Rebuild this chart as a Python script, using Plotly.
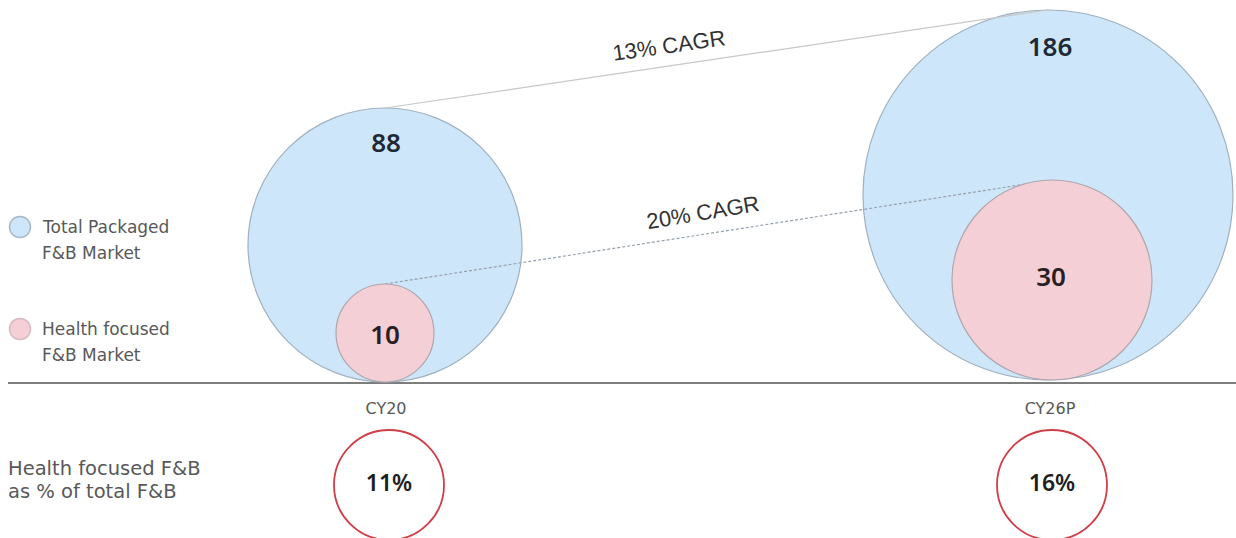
import plotly.graph_objects as go

# ---- data ----
years = ["CY20", "CY26P"]
total_market = [88, 186]
health_market = [10, 30]
health_share = ["11%", "16%"]
cagr_labels = ["13% CAGR", "20% CAGR"]
legend_lines = [["Total Packaged", "F&B Market"], ["Health focused", "F&B Market"]]
caption_lines = ["Health focused F&B", "as % of total F&B"]

# ---- layout constants (pixel-like coordinates, y downward) ----
W, H = 1236, 538
big_x = [385, 1048]
big_y = [245, 195]
big_r = [137, 185]
pink_x = [385, 1052]
pink_y = [333, 280]
pink_r = [49, 100]
base_y = 383
year_label_y = 410
share_x = [389, 1052]
share_y = 485
share_r = 55

BLUE_FILL = "rgb(206,230,249)"
BLUE_LINE = "rgb(160,176,192)"
PINK_FILL = "rgb(244,207,214)"
PINK_LINE = "rgb(175,165,172)"
RED = "rgb(208,62,72)"
GREY_TXT = "rgb(88,88,88)"
VAL_FONT = "Noto Sans"
TXT_FONT = "DejaVu Sans"
CAGR_FONT = "Liberation Sans"

fig = go.Figure()

# baseline
fig.add_trace(go.Scatter(x=[8, W], y=[base_y, base_y], mode="lines",
                         line=dict(color="rgb(125,125,125)", width=2),
                         hoverinfo="skip", showlegend=False))

# big (total market) circles
fig.add_trace(go.Scatter(
    x=big_x, y=big_y, mode="markers",
    marker=dict(size=[2 * r for r in big_r], color=BLUE_FILL, opacity=1,
                line=dict(color=BLUE_LINE, width=1.2)),
    hoverinfo="skip", showlegend=False))

# connector lines (top of circles)
fig.add_trace(go.Scatter(
    x=big_x, y=[big_y[i] - big_r[i] for i in range(2)], mode="lines",
    line=dict(color="rgb(200,200,200)", width=1.2),
    hoverinfo="skip", showlegend=False))
fig.add_trace(go.Scatter(
    x=pink_x, y=[pink_y[i] - pink_r[i] for i in range(2)], mode="lines",
    line=dict(color="rgb(150,160,172)", width=1.2, dash="3px,2px"),
    hoverinfo="skip", showlegend=False))

# pink (health) circles
fig.add_trace(go.Scatter(
    x=pink_x, y=pink_y, mode="markers",
    marker=dict(size=[2 * r for r in pink_r], color=PINK_FILL, opacity=1,
                line=dict(color=PINK_LINE, width=1.2)),
    hoverinfo="skip", showlegend=False))

# value labels
fig.add_trace(go.Scatter(
    x=[386, 1050], y=[145, 49], mode="text",
    text=[str(v) for v in total_market],
    textfont=dict(family=VAL_FONT, size=26, color="rgb(30,40,55)", weight=600),
    hoverinfo="skip", showlegend=False))
fig.add_trace(go.Scatter(
    x=[385, 1051], y=[337, 279], mode="text",
    text=[str(v) for v in health_market],
    textfont=dict(family=VAL_FONT, size=26, color="rgb(40,30,35)", weight=600),
    hoverinfo="skip", showlegend=False))

# year labels
fig.add_trace(go.Scatter(
    x=[386, 1050], y=[year_label_y, year_label_y], mode="text", text=years,
    textfont=dict(family=TXT_FONT, size=16, color=GREY_TXT),
    hoverinfo="skip", showlegend=False))

# share circles
fig.add_trace(go.Scatter(
    x=share_x, y=[share_y, share_y], mode="markers+text",
    marker=dict(size=2 * share_r, color="white", opacity=1,
                line=dict(color=RED, width=1.8)),
    text=health_share,
    textfont=dict(family=VAL_FONT, size=23, color="rgb(30,30,30)", weight=600),
    textposition="middle center",
    hoverinfo="skip", showlegend=False))

# legend markers
fig.add_trace(go.Scatter(
    x=[20, 20], y=[227, 329], mode="markers",
    marker=dict(size=21, color=[BLUE_FILL, PINK_FILL], opacity=1,
                line=dict(color=["rgb(170,185,200)", "rgb(215,185,195)"], width=1.5)),
    hoverinfo="skip", showlegend=False))

annotations = []
for lines, y0 in zip(legend_lines, [227, 329]):
    for k, txt in enumerate(lines):
        annotations.append(dict(x=40, y=y0 + 26 * k, xref="x", yref="y", text=txt,
                                showarrow=False, xanchor="left", yanchor="middle",
                                font=dict(family=TXT_FONT, size=17, color=GREY_TXT)))
for k, txt in enumerate(caption_lines):
    annotations.append(dict(x=6, y=468 + 23 * k, xref="x", yref="y", text=txt,
                            showarrow=False, xanchor="left", yanchor="middle",
                            font=dict(family=TXT_FONT, size=19.5, color=GREY_TXT)))
# CAGR labels
for txt, (cx, cy, ang) in zip(cagr_labels, [(669, 45, -8), (703, 212, -9.5)]):
    annotations.append(dict(x=cx, y=cy, xref="x", yref="y", text=txt, showarrow=False,
                            textangle=ang,
                            font=dict(family=CAGR_FONT, size=22, color="rgb(50,50,50)")))

fig.update_layout(
    width=W, height=H, margin=dict(l=0, r=0, t=0, b=0),
    paper_bgcolor="white", plot_bgcolor="white",
    xaxis=dict(range=[0, W], visible=False, fixedrange=True),
    yaxis=dict(range=[H, 0], visible=False, fixedrange=True),
    annotations=annotations, showlegend=False,
)

fig.write_html("out.html", config={"displayModeBar": False},
               post_script="document.body.style.margin='0';")
